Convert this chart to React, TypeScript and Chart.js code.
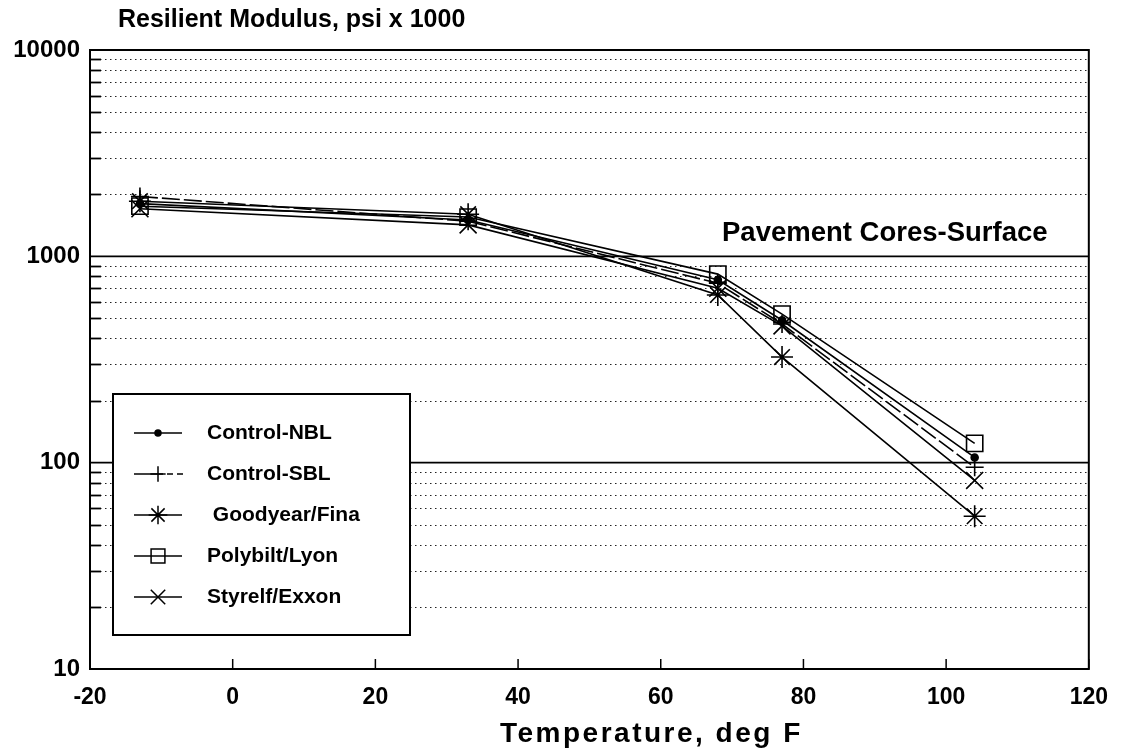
import React, { useEffect, useRef } from 'react';
import { Chart, registerables } from 'chart.js';
import { drawPoint } from 'chart.js/helpers';

Chart.register(...registerables);

// ---- data ----
const TEMPS = [-13, 33, 68, 77, 104];
const CONTROL_NBL = [1800, 1500, 770, 490, 106];
const CONTROL_SBL = [1950, 1480, 740, 470, 95];
const GOODYEAR_FINA = [1850, 1600, 650, 325, 55];
const POLYBILT_LYON = [1750, 1550, 820, 525, 124];
const STYRELF_EXXON = [1700, 1420, 700, 460, 82];

const SERIES_LABELS = ['Control-NBL', 'Control-SBL', ' Goodyear/Fina', 'Polybilt/Lyon', 'Styrelf/Exxon'];
const SERIES_VALUES = [CONTROL_NBL, CONTROL_SBL, GOODYEAR_FINA, POLYBILT_LYON, STYRELF_EXXON];
const X_TICKS = [-20, 0, 20, 40, 60, 80, 100, 120];
const Y_MAJOR_TICKS = [10, 100, 1000, 10000];
const Y_MINOR_MULTS = [2, 3, 4, 5, 6, 7, 8, 9];

const TITLE = 'Resilient Modulus, psi x 1000';
const X_TITLE = 'Temperature, deg F';
const NOTE = 'Pavement Cores-Surface';

// ---- styles ----
const FONT = '"Liberation Sans", Arial, sans-serif';
const STYLES = [
  { pointStyle: 'circle', radius: 3.5, fill: '#000', dash: [] as number[] },
  { pointStyle: 'cross', radius: 9, fill: 'rgba(0,0,0,0)', dash: [18, 4] },
  { pointStyle: 'star', radius: 11, fill: 'rgba(0,0,0,0)', dash: [] as number[] },
  { pointStyle: 'rect', radius: 11.5, fill: 'rgba(0,0,0,0)', dash: [] as number[] },
  { pointStyle: 'crossRot', radius: 12, fill: 'rgba(0,0,0,0)', dash: [] as number[] },
];

const framePlugin = {
  id: 'frame',
  beforeDatasetsDraw(chart: any) {
    const { ctx, chartArea: a, scales } = chart;
    const ys = scales.y;
    const xs = scales.x;
    ctx.save();
    for (let k = 0; k < Y_MAJOR_TICKS.length - 1; k++) {
      for (const m of Y_MINOR_MULTS) {
        const v = Y_MAJOR_TICKS[k] * m;
        const py = Math.round(ys.getPixelForValue(v)) + 0.5;
        ctx.strokeStyle = '#222';
        ctx.lineWidth = 1;
        ctx.setLineDash([1.5, 3.5]);
        ctx.beginPath();
        ctx.moveTo(a.left, py);
        ctx.lineTo(a.right, py);
        ctx.stroke();
        ctx.setLineDash([]);
        ctx.lineWidth = 1.8;
        ctx.strokeStyle = '#000';
        ctx.beginPath();
        ctx.moveTo(a.left, py);
        ctx.lineTo(a.left + 11, py);
        ctx.stroke();
      }
    }
    ctx.setLineDash([]);
    ctx.strokeStyle = '#000';
    ctx.lineWidth = 1.8;
    for (const v of Y_MAJOR_TICKS) {
      const py = ys.getPixelForValue(v);
      ctx.beginPath();
      ctx.moveTo(a.left, py);
      ctx.lineTo(a.right, py);
      ctx.stroke();
    }
    ctx.lineWidth = 1.5;
    for (const t of X_TICKS) {
      const px = xs.getPixelForValue(t);
      ctx.beginPath();
      ctx.moveTo(px, a.bottom);
      ctx.lineTo(px, a.bottom - 10);
      ctx.stroke();
    }
    ctx.lineWidth = 2;
    ctx.strokeRect(a.left, a.top, a.right - a.left, a.bottom - a.top);
    ctx.restore();
  },
  afterDraw(chart: any) {
    const { ctx } = chart;
    ctx.save();
    ctx.fillStyle = '#000';
    ctx.textBaseline = 'middle';
    ctx.textAlign = 'left';
    ctx.font = `bold 25px ${FONT}`;
    ctx.fillText(TITLE, 118, 20);
    ctx.font = `bold 27.5px ${FONT}`;
    ctx.fillText(NOTE, 722, 233);
    ctx.font = `bold 28px ${FONT}`;
    (ctx as any).letterSpacing = '2.5px';
    ctx.fillText(X_TITLE, 500, 734);
    (ctx as any).letterSpacing = '0px';

    // legend box
    const bx = 113, by = 394, bw = 297, bh = 241;
    ctx.fillStyle = '#fff';
    ctx.fillRect(bx, by, bw, bh);
    ctx.strokeStyle = '#000';
    ctx.lineWidth = 2;
    ctx.strokeRect(bx, by, bw, bh);
    const rows = [433, 474, 515, 556, 597];
    SERIES_LABELS.forEach((lab, i) => {
      const st = STYLES[i];
      const yy = rows[i];
      ctx.strokeStyle = '#000';
      ctx.lineWidth = 1.5;
      ctx.setLineDash([]);
      ctx.beginPath();
      ctx.moveTo(134, yy);
      ctx.lineTo(i === 1 ? 163 : 182, yy);
      ctx.stroke();
      if (i === 1) {
        ctx.beginPath();
        ctx.moveTo(167, yy); ctx.lineTo(173, yy);
        ctx.moveTo(177, yy); ctx.lineTo(183, yy);
        ctx.stroke();
      }
      ctx.fillStyle = st.fill;
      drawPoint(ctx, { pointStyle: st.pointStyle as any, rotation: 0, radius: st.radius * 0.85, borderWidth: 1.5 } as any, 158, yy);
      ctx.fillStyle = '#000';
      ctx.textAlign = 'left';
      ctx.font = `bold 21px ${FONT}`;
      ctx.fillText(lab, 207, yy);
    });
    ctx.restore();
  },
};

export default function App() {
  const ref = useRef<HTMLCanvasElement | null>(null);
  useEffect(() => {
    document.body.style.margin = '0';
    const canvas = ref.current!;
    const chart = new Chart(canvas, {
      type: 'line',
      data: {
        datasets: SERIES_VALUES.map((vals, i) => ({
          label: SERIES_LABELS[i],
          data: TEMPS.map((t, j) => ({ x: t, y: vals[j] })),
          borderColor: '#000',
          borderWidth: 1.6,
          borderDash: STYLES[i].dash,
          pointStyle: STYLES[i].pointStyle as any,
          pointRadius: STYLES[i].radius,
          pointBorderColor: '#000',
          pointBorderWidth: 1.6,
          pointBackgroundColor: STYLES[i].fill,
          fill: false,
          tension: 0,
        })),
      },
      options: {
        animation: false,
        responsive: false,
        layout: { padding: { top: 50, right: 33, left: 0, bottom: 0 } },
        plugins: { legend: { display: false }, tooltip: { enabled: false }, title: { display: false } },
        scales: {
          x: {
            type: 'linear',
            min: -20,
            max: 120,
            afterBuildTicks: (s: any) => { s.ticks = X_TICKS.map((v) => ({ value: v })); },
            ticks: { color: '#000', font: { family: FONT, weight: 'bold', size: 23 }, padding: 15, maxRotation: 0 },
            grid: { display: false, drawTicks: false },
            border: { display: false },
            afterFit: (s: any) => { s.height = 85; },
          },
          y: {
            type: 'logarithmic',
            min: 10,
            max: 10000,
            afterBuildTicks: (s: any) => { s.ticks = Y_MAJOR_TICKS.map((v) => ({ value: v, major: true })); },
            ticks: {
              color: '#000',
              font: { family: FONT, weight: 'bold', size: 24 },
              padding: 10,
              autoSkip: false,
              callback: (v: any) => String(v),
            },
            grid: { display: false, drawTicks: false },
            border: { display: false },
            afterFit: (s: any) => { s.width = 90; },
          },
        },
      },
      plugins: [framePlugin],
    });
    return () => chart.destroy();
  }, []);
  return <canvas ref={ref} width={1123} height={754} style={{ display: 'block' }} />;
}
